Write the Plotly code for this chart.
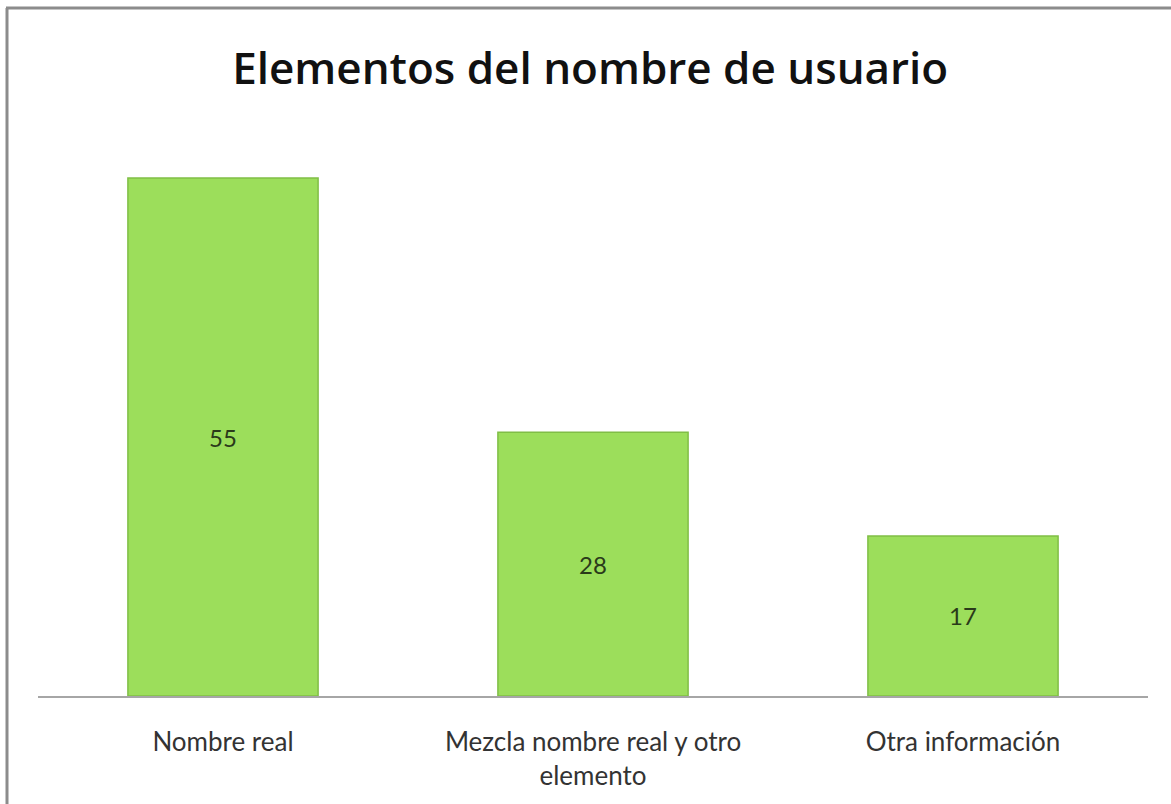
import plotly.graph_objects as go

categorias = ['Nombre real', 'Mezcla nombre real y otro<br>elemento', 'Otra información']
valores = [55, 28, 17]

fig = go.Figure()
fig.add_trace(go.Bar(
    x=categorias,
    y=valores,
    text=valores,
    textposition='inside',
    insidetextanchor='middle',
    textfont=dict(family='Lato', size=24, color='#2a3a1a'),
    marker=dict(color='#9CDE5B', line=dict(color='#80BE46', width=1.5)),
    width=0.514,
    hoverinfo='skip'
))

W, H = 1171, 804
L, R, T, B = 38, 23, 131, 108
pw, ph = W - L - R, H - T - B

def px_x(p):
    return (p - L) / pw

def px_y(p):
    return (H - B - p) / ph

fig.update_layout(
    width=W, height=H,
    margin=dict(l=L, r=R, t=T, b=B),
    paper_bgcolor='white',
    plot_bgcolor='white',
    showlegend=False,
    title=dict(
        text='Elementos del nombre de usuario',
        x=0.504, xanchor='center', y=1 - 69 / H, yanchor='middle',
        font=dict(family='Open Sans', size=44, weight=600, color='#111111')
    ),
    xaxis=dict(
        showline=True, linecolor='#a6a6a6', linewidth=2,
        showgrid=False, ticks='', ticklabelstandoff=22,
        tickfont=dict(family='Lato', size=26, color='#333333')
    ),
    yaxis=dict(range=[0, 60], visible=False, showgrid=False),
    shapes=[
        dict(type='line', xref='paper', yref='paper',
             x0=px_x(6), x1=px_x(1171), y0=px_y(8), y1=px_y(8),
             line=dict(color='#8c8c8c', width=3)),
        dict(type='line', xref='paper', yref='paper',
             x0=px_x(7), x1=px_x(7), y0=px_y(8), y1=px_y(804),
             line=dict(color='#8c8c8c', width=3)),
    ]
)

fig.write_html('out.html', config={'displayModeBar': False},
               post_script="document.body.style.margin='0';")
